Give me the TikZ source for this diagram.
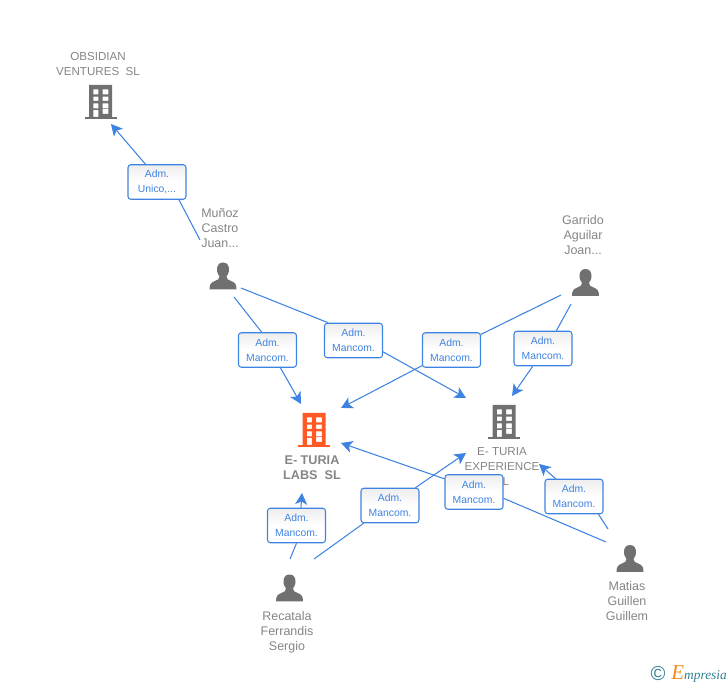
\documentclass[tikz,border=0pt]{standalone}
\usepackage{fontspec}
\setmainfont{Liberation Sans}
\newfontfamily\logofont{Liberation Serif}
\usetikzlibrary{arrows.meta}
\definecolor{linkblue}{HTML}{3F83E2}
\definecolor{icongray}{HTML}{707070}
\definecolor{labelgray}{HTML}{858585}
\definecolor{iconorange}{HTML}{FF5A26}
\definecolor{logoteal}{HTML}{2F7F93}
\definecolor{logoorange}{HTML}{F08A1D}

\begin{document}
\begin{tikzpicture}[
	x=0.02cm, y=-0.02cm,
	adm/.style={draw=linkblue,line width=0.6pt,rounded corners=1.6pt,top color=black!7,bottom color=white,middle color=white,
		minimum width=1.16cm,minimum height=0.69cm,inner sep=0pt,align=center,text=linkblue,font=\fontsize{5.9}{8.5}\selectfont},
	link/.style={draw=linkblue,line width=0.6pt},
	tip/.style={link,-{Stealth[length=2.3mm,width=2.4mm,inset=0.6mm]}},
	firm/.style={align=center,text=labelgray,inner sep=0pt,font=\fontsize{6.6}{8.5}\selectfont},
	person/.style={align=center,text=labelgray,inner sep=0pt,font=\fontsize{7.1}{8.5}\selectfont},
	pics/building/.style={code={
		\fill[#1,even odd rule] (-11.5,-17) rectangle (11.5,15)
			(-7.2,-12.7) rectangle (-2.2,-7.7) (2.2,-12.7) rectangle (7.8,-7.7)
			(-7.2,-5.3) rectangle (-2.2,-1) (2.2,-5.3) rectangle (7.8,-1)
			(-7.2,1.3) rectangle (-2.2,6.3) (2.2,1.3) rectangle (7.8,6.3)
			(-7.2,8) rectangle (-2.2,15) (2.2,7) rectangle (7.8,12);
		\fill[#1] (-16,15) rectangle (16,17);
	}},
	pics/human/.style={code={
		\fill[icongray] (0,-13.5) .. controls (-4.5,-13.5) and (-6,-10) .. (-6,-6.5)
			.. controls (-6,-3) and (-4.5,-1) .. (-3.5,0.5) .. controls (-3.5,3) and (-5,4) .. (-8,5)
			.. controls (-12,6.5) and (-13.5,8) .. (-13.5,13.5) -- (13.5,13.5)
			.. controls (13.5,8) and (12,6.5) .. (8,5) .. controls (5,4) and (3.5,3) .. (3.5,0.5)
			.. controls (4.5,-1) and (6,-3) .. (6,-6.5) .. controls (6,-10) and (4.5,-13.5) .. (0,-13.5) -- cycle;
	}}
	]

	\useasboundingbox (0,0) rectangle (728,685);

	% icons
	\pic at (100.5,102) {building=icongray};
	\pic at (314,430) {building=iconorange};
	\pic at (504,422) {building=icongray};
	\pic at (223,276) {human};
	\pic at (585.5,282.5) {human};
	\pic at (289.5,588) {human};
	\pic at (630,558.5) {human};

	% names
	\node[firm] (obsidian) at (98,64) {OBSIDIAN\\VENTURES\ \ SL};
	\node[firm,font=\fontsize{7.2}{8.5}\selectfont\bfseries] (labs) at (312,468) {E- TURIA\\LABS\ \ SL};
	\node[firm] (experience) at (502,467) {E- TURIA\\EXPERIENCE\\SL};
	\node[person] (munoz) at (220,228) {Muñoz\\Castro\\Juan...};
	\node[person] (garrido) at (583,235) {Garrido\\Aguilar\\Joan...};
	\node[person] (recatala) at (287,632) {Recatala\\Ferrandis\\Sergio};
	\node[person] (matias) at (627,601) {Matias\\Guillen\\Guillem};

	% free ends
	\coordinate (munozA) at (200,240);
	\coordinate (munozB) at (234,297);
	\coordinate (munozC) at (241,288);
	\coordinate (garridoA) at (561,295);
	\coordinate (garridoB) at (571,304);
	\coordinate (recatalaA) at (290,559);
	\coordinate (recatalaB) at (314,559);
	\coordinate (matiasA) at (606,542);
	\coordinate (matiasB) at (608,529);
	\coordinate (obsidianTip) at (111,124);
	\coordinate (labsTipA) at (301,404);
	\coordinate (labsTipB) at (341,408);
	\coordinate (labsTipC) at (302,493);
	\coordinate (labsTipD) at (341,443);
	\coordinate (experienceTipA) at (466,398);
	\coordinate (experienceTipB) at (512,396);
	\coordinate (experienceTipC) at (466,453);
	\coordinate (experienceTipD) at (539,464);

	% role boxes
	\node[adm] (roleA) at (157,182) {Adm.\\Unico,...};
	\node[adm] (roleB) at (267.5,350) {Adm.\\Mancom.};
	\node[adm] (roleC) at (353.5,340.5) {Adm.\\Mancom.};
	\node[adm] (roleD) at (451.5,350) {Adm.\\Mancom.};
	\node[adm] (roleE) at (543,348.5) {Adm.\\Mancom.};
	\node[adm] (roleF) at (296.5,525.5) {Adm.\\Mancom.};
	\node[adm] (roleG) at (390,505.5) {Adm.\\Mancom.};
	\node[adm] (roleH) at (474,492) {Adm.\\Mancom.};
	\node[adm] (roleI) at (574,496.5) {Adm.\\Mancom.};

	% links
	\draw[link] (munozA) -- (roleA.-39);
	\draw[tip] (roleA.123) -- (obsidianTip);
	\draw[link] (munozB) -- (roleB.108);
	\draw[tip] (roleB.-54) -- (labsTipA);
	\draw[link] (munozC) -- (roleC.145);
	\draw[tip] (roleC.-21) -- (experienceTipA);
	\draw[link] (garridoA) -- (roleD.28);
	\draw[tip] (roleD.208) -- (labsTipB);
	\draw[link] (garridoB) -- (roleE.53);
	\draw[tip] (roleE.-120) -- (experienceTipB);
	\draw[link] (recatalaA) -- (roleF.-90);
	\draw[tip] (roleF.76) -- (labsTipC);
	\draw[link] (recatalaB) -- (roleG.214);
	\draw[tip] (roleG.35) -- (experienceTipC);
	\draw[link] (matiasA) -- (roleH.-12);
	\draw[tip] (roleH.156) -- (labsTipD);
	\draw[link] (matiasB) -- (roleI.-36);
	\draw[tip] (roleI.136) -- (experienceTipD);

	% logo
	\node[text=logoteal,inner sep=0pt,font=\fontsize{11.5}{11.5}\selectfont] (copyright) at (658,674) {©};
	\node[anchor=west,inner sep=0pt,text=logoteal,font=\logofont\itshape\fontsize{7.6}{8}\selectfont] (logo) at (671,674)
		{\textcolor{logoorange}{\fontsize{12}{12}\selectfont E}mpresia};

\end{tikzpicture}
\end{document}
